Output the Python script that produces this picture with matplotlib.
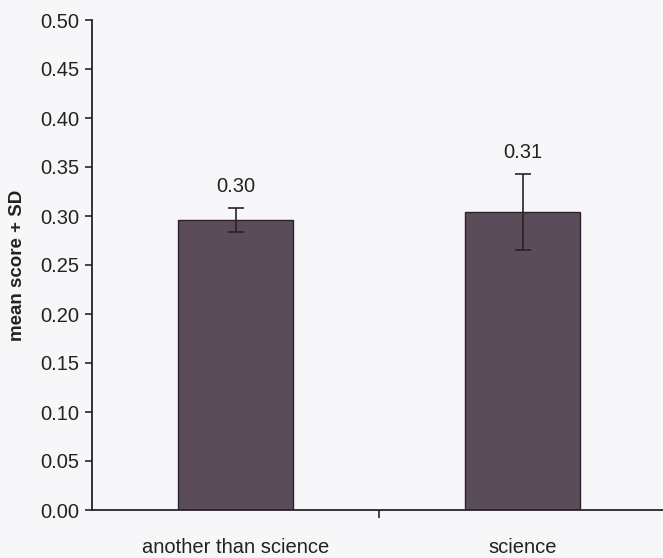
import matplotlib
matplotlib.use("Agg")
import matplotlib.pyplot as plt
import numpy as np

categories = ["another than science", "science"]
means = [0.296, 0.304]
sds = [0.012, 0.039]
labels = ["0.30", "0.31"]
yticks = [0.00, 0.05, 0.10, 0.15, 0.20, 0.25, 0.30, 0.35, 0.40, 0.45, 0.50]

plt.rcParams['font.family'] = ['Liberation Sans', 'DejaVu Sans']

fig = plt.figure(figsize=(6.63, 5.58), dpi=100)
fig.patch.set_facecolor('#f7f7f9')
ax = fig.add_axes([92/663, 1 - 510/558, 1 - 92/663 + 0.005, (510 - 20)/558])
ax.set_facecolor('none')

x = np.arange(len(categories))
ax.bar(x, means, width=0.4, color='#5b4c59', edgecolor='#2a2228', linewidth=1.0, zorder=2)
ax.errorbar(x, means, yerr=sds, fmt='none', ecolor='#2a2228', elinewidth=1.2,
            capsize=6, capthick=1.2, zorder=3)
for xi, m, s, lab in zip(x, means, sds, labels):
    ax.text(xi, m + s + 0.012, lab, ha='center', va='bottom', fontsize=14.5, color='#222222')

ax.set_xlim(-0.5, 1.5)
ax.set_ylim(0, 0.5)
ax.set_yticks(yticks)
ax.set_yticklabels([f"{v:.2f}" for v in yticks], fontsize=14.5, color='#222222')
ax.set_xticks([0.5])
ax.set_xticklabels([""])
ax.set_xticks(x, minor=True)
ax.set_xticklabels(categories, minor=True, fontsize=14.5, color='#222222')
ax.tick_params(axis='x', which='minor', length=0, pad=20)
ax.tick_params(axis='x', which='major', length=6, width=1.2, color='#2a2228', direction='out')
ax.tick_params(axis='y', length=5, width=1.2, color='#2a2228', direction='out', pad=4)
for s in ['top', 'right']:
    ax.spines[s].set_visible(False)
for s in ['left', 'bottom']:
    ax.spines[s].set_color('#2a2228')
    ax.spines[s].set_linewidth(1.3)

ax.set_ylabel("mean score + SD", fontsize=13.5, fontweight='bold', color='#222222', labelpad=10)

fig.savefig("out.png", dpi=100, facecolor=fig.get_facecolor())
